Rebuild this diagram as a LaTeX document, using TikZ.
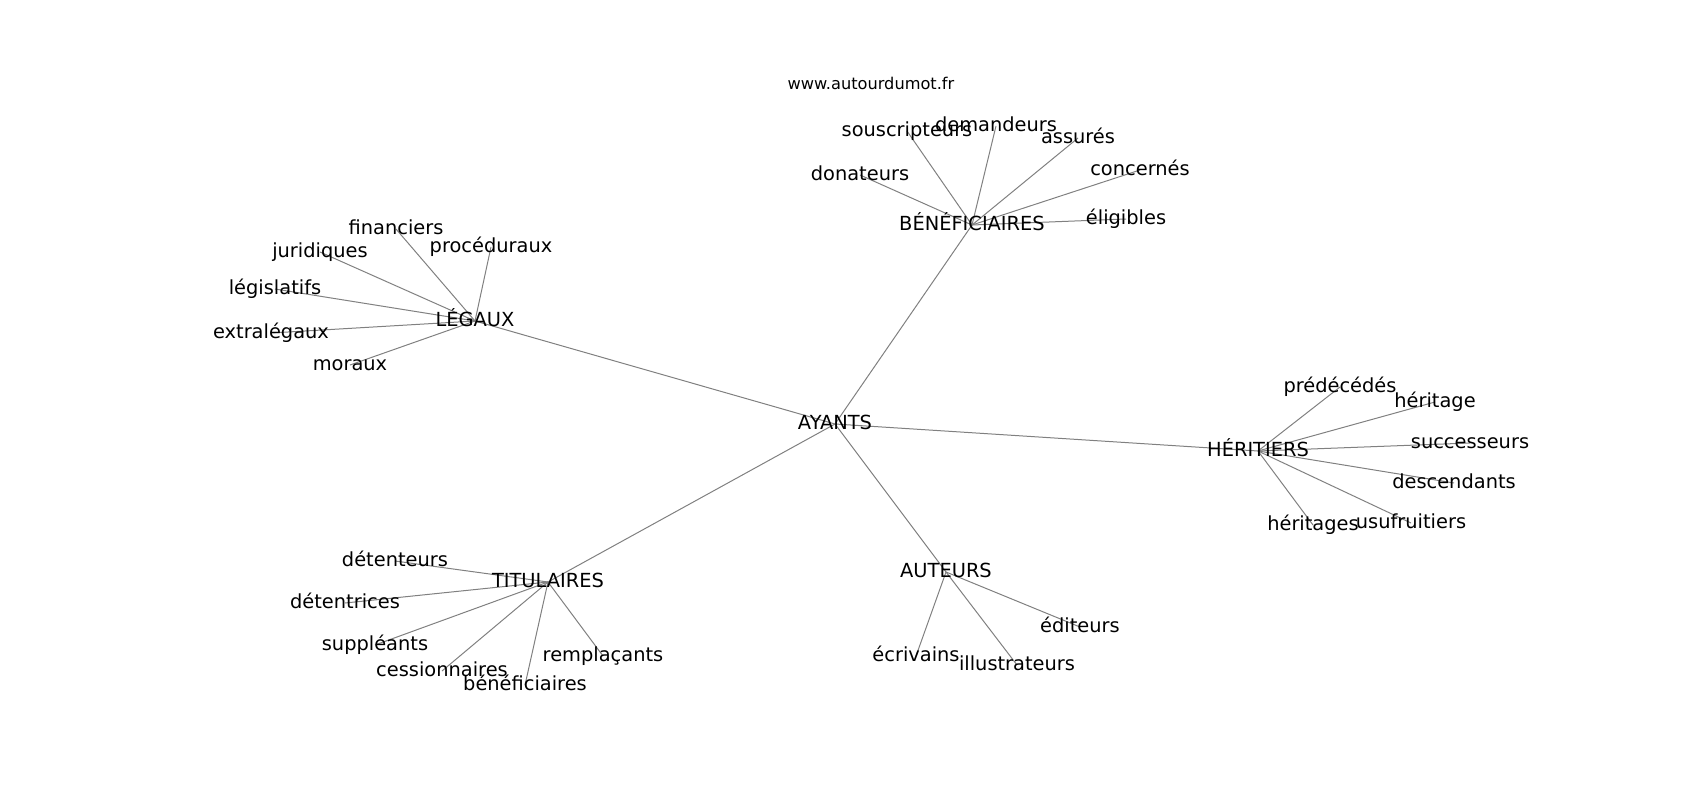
\documentclass[tikz,border=0pt]{standalone}
\usepackage{fontspec}
\usepackage{tikz}
\usetikzlibrary{positioning,backgrounds}
\newfontfamily\dejavu{DejaVu Sans}
\newcommand{\wordfont}{\dejavu\fontsize{19.4}{23}\selectfont}
\newcommand{\sitefont}{\dejavu\fontsize{16.2}{19}\selectfont}

\begin{document}
\begin{tikzpicture}[
    x=1pt, y=-1pt,
    word/.style={font=\wordfont, inner sep=0pt, text height=11.5pt, text depth=1pt},
    link/.style={draw=black!50, line width=1pt}
]

% fixe le cadre 1700 x 800
\path[use as bounding box] (0,0) rectangle (1700,800);

\node[font=\sitefont, anchor=base] (site) at (871,89) {www.autourdumot.fr};

% ===== CENTRE ET GROUPES =====
\node[word] (ayants)   at (835,424)  {AYANTS};
\node[word] (benef)    at (972,225)  {BÉNÉFICIAIRES};
\node[word] (legaux)   at (475,321)  {LÉGAUX};
\node[word] (heritier) at (1258,451) {HÉRITIERS};
\node[word] (titul)    at (548,582)  {TITULAIRES};
\node[word] (auteurs)  at (946,572)  {AUTEURS};

% ===== BÉNÉFICIAIRES =====
\node[word] (donat)   at (860,175)  {donateurs};
\node[word] (souscr)  at (907,131)  {souscripteurs};
\node[word] (demand)  at (996,126)  {demandeurs};
\node[word] (assures) at (1078,138) {assurés};
\node[word] (concern) at (1140,170) {concernés};
\node[word] (eligib)  at (1126,219) {éligibles};

% ===== LÉGAUX =====
\node[word] (financ)  at (396,229) {financiers};
\node[word] (proced)  at (491,247) {procéduraux};
\node[word] (jurid)   at (320,252) {juridiques};
\node[word] (legisl)  at (275,289) {législatifs};
\node[word] (extral)  at (271,333) {extralégaux};
\node[word] (moraux)  at (350,365) {moraux};

% ===== HÉRITIERS =====
\node[word] (predec)  at (1340,387) {prédécédés};
\node[word] (herit)   at (1435,402) {héritage};
\node[word] (success) at (1470,443) {successeurs};
\node[word] (descend) at (1454,483) {descendants};
\node[word] (herits)  at (1313,525) {héritages};
\node[word] (usufr)   at (1411,523) {usufruitiers};

% ===== TITULAIRES =====
\node[word] (detent)  at (395,561) {détenteurs};
\node[word] (detentr) at (345,603) {détentrices};
\node[word] (suppl)   at (375,645) {suppléants};
\node[word] (cession) at (442,671) {cessionnaires};
\node[word] (benefs)  at (525,685) {bénéficiaires};
\node[word] (rempl)   at (603,656) {remplaçants};

% ===== AUTEURS =====
\node[word] (editeurs) at (1080,627) {éditeurs};
\node[word] (ecriv)    at (916,656)  {écrivains};
\node[word] (illus)    at (1017,665) {illustrateurs};

% ===== LIENS (sous le texte) =====
\begin{scope}[on background layer]
\foreach \g in {benef,legaux,heritier,titul,auteurs}
  \draw[link] (ayants.center) -- (\g.center);
\foreach \w in {donat,souscr,demand,assures,concern,eligib}
  \draw[link] (benef.center) -- (\w.center);
\foreach \w in {financ,proced,jurid,legisl,extral,moraux}
  \draw[link] (legaux.center) -- (\w.center);
\foreach \w in {predec,herit,success,descend,herits,usufr}
  \draw[link] (heritier.center) -- (\w.center);
\foreach \w in {detent,detentr,suppl,cession,benefs,rempl}
  \draw[link] (titul.center) -- (\w.center);
\foreach \w in {editeurs,ecriv,illus}
  \draw[link] (auteurs.center) -- (\w.center);
\end{scope}

\end{tikzpicture}
\end{document}
